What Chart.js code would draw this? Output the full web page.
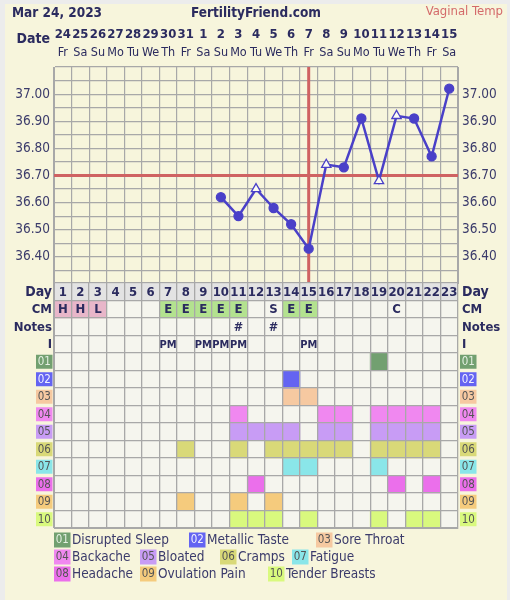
<!DOCTYPE html>
<html>
<head>
<meta charset="utf-8">
<script src="https://cdn.jsdelivr.net/npm/chart.js@4.4.1/dist/chart.umd.min.js"></script>
<style>
  html, body { margin: 0; padding: 0; width: 510px; height: 600px; overflow: hidden; background: #ececec; }
  #paper { position: absolute; left: 5px; top: 4px; width: 502px; height: 596px; background: #f7f5dc; }
  canvas { position: absolute; left: 0; }
  #temp { top: 0; }
  #table { top: 280px; }
</style>
</head>
<body>
<div id="paper"></div>
<canvas id="temp" width="510" height="296"></canvas>
<canvas id="table" width="510" height="320"></canvas>
<script>
// Cycle day 1 = Fri Mar 24, 2023
const cycleDays = ["1","2","3","4","5","6","7","8","9","10","11","12","13","14","15","16","17","18","19","20","21","22","23"];
const dateLabels = ["24","25","26","27","28","29","30","31","1","2","3","4","5","6","7","8","9","10","11","12","13","14","15"];
const weekdayLabels = ["Fr","Sa","Su","Mo","Tu","We","Th","Fr","Sa","Su","Mo","Tu","We","Th","Fr","Sa","Su","Mo","Tu","We","Th","Fr","Sa"];

const temps = [null, null, null, null, null, null, null, null, null,
  36.62, 36.55, 36.65, 36.58, 36.52, 36.43, 36.74, 36.73, 36.91, 36.68, 36.92, 36.91, 36.77, 37.02];
const openTempDays = [12, 16, 19, 20]; // drawn as hollow triangles
const tempTicks = [36.40, 36.50, 36.60, 36.70, 36.80, 36.90, 37.00];
const coverline = 36.70;
const ovulationDay = 15;

const cmCodes = ["H","H","L","","","","E","E","E","E","E","","S","E","E","","","","","C","","",""];
const notesMarks = ["","","","","","","","","","","#","","#","","","","","","","","","",""];
const intercourse = ["","","","","","","PM","","PM","PM","PM","","","","PM","","","","","","","",""];

const symptomNames = ["Disrupted Sleep", "Metallic Taste", "Sore Throat", "Backache", "Bloated",
  "Cramps", "Fatigue", "Headache", "Ovulation Pain", "Tender Breasts"];
const symptomDays = [
  [19],
  [14],
  [14, 15],
  [11, 16, 17, 19, 20, 21, 22],
  [11, 12, 13, 14, 16, 17, 19, 20, 21, 22],
  [8, 11, 13, 14, 15, 16, 17, 19, 20, 21, 22],
  [14, 15, 19],
  [12, 20, 22],
  [8, 11, 13],
  [11, 12, 13, 15, 19, 21, 22],
];

// styles
const FONT = '"DejaVu Sans Condensed", "DejaVu Sans", sans-serif';
const INK = "#2b2b5f";
const GRID = "#a8a8a8";
const LINE = "#4a40c8";
const RED = "#cf6262";
const symptomColors = ["#72a070", "#6464f2", "#f6c9a1", "#f088f0", "#c89cf5",
  "#d9d978", "#8ae6e9", "#eb6feb", "#f5cb7d", "#d9f97e"];
const cmColors = { H: "#e8b6c9", L: "#e8b6c9", E: "#b3e28f" };
const legendSlots = [[54, 540], [189, 540], [316, 540], [54, 557], [140, 557], [220, 557], [292, 557], [54, 574], [140, 574], [268, 574]];

Chart.defaults.font.family = FONT;

function text(ctx, str, x, y, font, color, align) {
  ctx.font = font;
  ctx.fillStyle = color;
  ctx.textAlign = align || "center";
  ctx.textBaseline = "middle";
  ctx.fillText(str, x, y);
}

function tempLabel(value) {
  return tempTicks.some((t) => Math.abs(t - value) < 0.001) ? value.toFixed(2) : "";
}

const tempDecor = {
  id: "tempDecor",
  beforeDatasetsDraw(chart) {
    const { ctx, chartArea: a, scales: { x, y } } = chart;
    ctx.save();
    ctx.strokeStyle = RED;
    ctx.lineWidth = 3;
    ctx.beginPath();
    const cy = y.getPixelForValue(coverline);
    ctx.moveTo(a.left, cy);
    ctx.lineTo(a.right, cy);
    const vx = x.getPixelForValue(ovulationDay - 1);
    ctx.moveTo(vx, a.top);
    ctx.lineTo(vx, a.bottom);
    ctx.stroke();
    ctx.restore();
  },
  afterDraw(chart) {
    const { ctx, chartArea: a, scales: { x } } = chart;
    ctx.save();
    text(ctx, "Mar 24, 2023", 12, 13, "bold 13.5px " + FONT, INK, "left");
    text(ctx, "FertilityFriend.com", 256, 13, "bold 13.5px " + FONT, INK, "center");
    text(ctx, "Vaginal Temp", 503, 12, "13px " + FONT, "#d46a6a", "right");
    text(ctx, "Date", a.left - 4, 39, "bold 14px " + FONT, INK, "right");
    dateLabels.forEach((d, i) => {
      const px = x.getPixelForValue(i);
      text(ctx, d, px, 35, "bold 13px " + FONT, INK);
      text(ctx, weekdayLabels[i], px, 53, "12.5px " + FONT, INK);
    });
    ctx.restore();
  },
};

new Chart(document.getElementById("temp"), {
  type: "line",
  data: {
    labels: cycleDays,
    datasets: [{
      data: temps,
      borderColor: LINE,
      borderWidth: 2.5,
      tension: 0,
      pointStyle: cycleDays.map((d) => (openTempDays.includes(+d) ? "triangle" : "circle")),
      pointRadius: cycleDays.map((d) => (openTempDays.includes(+d) ? 5.4 : 4.5)),
      pointBackgroundColor: cycleDays.map((d) => (openTempDays.includes(+d) ? "#fbfbf3" : LINE)),
      pointBorderColor: LINE,
      pointBorderWidth: 1.3,
    }],
  },
  options: {
    responsive: false,
    animation: false,
    events: [],
    layout: { padding: { top: 67, bottom: 12 } },
    plugins: { legend: { display: false }, tooltip: { enabled: false } },
    scales: {
      x: {
        offset: true,
        grid: { offset: true, color: GRID, lineWidth: 1.2, drawTicks: false },
        border: { display: false },
        ticks: { display: false },
        afterFit: (s) => { s.height = 0; },
      },
      y: {
        min: 36.3, max: 37.1,
        ticks: { stepSize: 0.05, callback: tempLabel, color: "#3b3b6b", font: { size: 13.5 }, padding: 4, autoSkip: false },
        grid: { color: GRID, lineWidth: 1.2, drawTicks: false },
        border: { color: GRID },
        afterFit: (s) => { s.width = 54; },
      },
      y2: {
        position: "right",
        min: 36.3, max: 37.1,
        ticks: { stepSize: 0.05, callback: tempLabel, color: "#3b3b6b", font: { size: 13.5 }, padding: 4, autoSkip: false },
        grid: { display: false, drawTicks: false },
        border: { color: GRID },
        afterFit: (s) => { s.width = 52; },
      },
    },
  },
  plugins: [tempDecor],
});

// ---- lower table: rows 0 Day, 1 CM, 2 Notes, 3 I, 4..13 symptoms ----
function cellRow(row, days, color) {
  return {
    data: cycleDays.map((d) => (days.includes(+d) ? [row, row + 1] : null)),
    backgroundColor: color,
  };
}

const tableSets = [
  cellRow(0, cycleDays.map(Number), "#e3e3e3"),
  {
    data: cmCodes.map((c) => (cmColors[c] ? [1, 2] : null)),
    backgroundColor: cmCodes.map((c) => cmColors[c] || "transparent"),
  },
  ...symptomDays.map((days, k) => cellRow(4 + k, days, symptomColors[k])),
].map((ds) => ({ ...ds, borderWidth: 0, barPercentage: 1, categoryPercentage: 1, grouped: false }));

function boxTextColor(k) {
  return k === 0 ? "#e4f0e2" : k === 1 ? "#f0f0ff" : "#555555";
}

function symptomBox(ctx, k, x, cy, h) {
  ctx.fillStyle = symptomColors[k];
  ctx.fillRect(x, cy - h / 2, 16.5, h);
  text(ctx, String(k + 1).padStart(2, "0"), x + 8.25, cy + 0.5, "11.5px " + FONT, boxTextColor(k));
}

const tableDecor = {
  id: "tableDecor",
  beforeDraw(chart) {
    const { ctx, chartArea: a } = chart;
    ctx.save();
    ctx.fillStyle = "#f5f5ee";
    ctx.fillRect(a.left, a.top, a.right - a.left, a.bottom - a.top);
    ctx.restore();
  },
  afterDraw(chart) {
    const { ctx, chartArea: a, scales: { x, y } } = chart;
    const rowY = (r) => y.getPixelForValue(r + 0.5);
    ctx.save();
    cycleDays.forEach((d, i) => {
      const px = x.getPixelForValue(i);
      text(ctx, d, px, rowY(0) + 0.5, "bold 13px " + FONT, INK);
      if (cmCodes[i]) text(ctx, cmCodes[i], px, rowY(1) + 0.5, "bold 13px " + FONT, INK);
      if (notesMarks[i]) text(ctx, notesMarks[i], px, rowY(2) + 0.5, "bold 12.5px " + FONT, INK);
      if (intercourse[i]) text(ctx, intercourse[i], px, rowY(3) + 0.5, "bold 11px " + FONT, INK);
    });
    ["Day", "CM", "Notes", "I"].forEach((lbl, r) => {
      const size = r === 0 ? 14 : 13;
      text(ctx, lbl, a.left - 2, rowY(r) + 0.5, "bold " + size + "px " + FONT, INK, "right");
      text(ctx, lbl, a.right + 4, rowY(r) + 0.5, "bold " + size + "px " + FONT, INK, "left");
    });
    symptomNames.forEach((name, k) => {
      const cy = rowY(4 + k);
      symptomBox(ctx, k, a.left - 18, cy, 14);
      symptomBox(ctx, k, a.right + 2, cy, 14);
      const [lx, ly] = legendSlots[k];
      symptomBox(ctx, k, lx, ly - 280, 15);
      text(ctx, name, lx + 18, ly - 280, "13.5px " + FONT, "#3b3b6b", "left");
    });
    ctx.restore();
  },
};

new Chart(document.getElementById("table"), {
  type: "bar",
  data: { labels: cycleDays, datasets: tableSets },
  options: {
    responsive: false,
    animation: false,
    events: [],
    layout: { padding: { top: 3, bottom: 72, left: 54, right: 52 } },
    plugins: { legend: { display: false }, tooltip: { enabled: false } },
    scales: {
      x: {
        offset: true,
        grid: { offset: true, color: GRID, lineWidth: 1.3, drawTicks: false, z: 1 },
        border: { color: GRID, z: 1 },
        ticks: { display: false },
        afterFit: (s) => { s.height = 0; },
      },
      y: {
        min: 0, max: 14, reverse: true,
        ticks: { display: false, stepSize: 1 },
        grid: { color: GRID, lineWidth: 1.3, drawTicks: false, z: 1 },
        border: { color: GRID, z: 1 },
        afterFit: (s) => { s.width = 0; },
      },
    },
  },
  plugins: [tableDecor],
});
</script>
</body>
</html>
